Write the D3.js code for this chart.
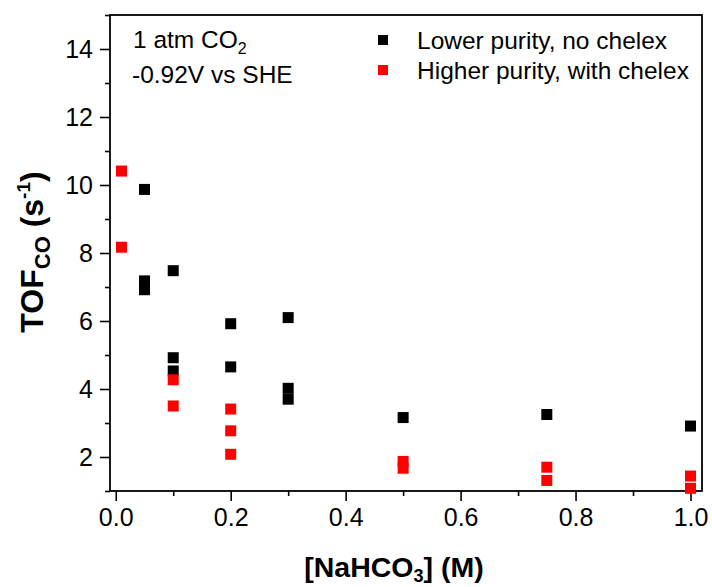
<!DOCTYPE html>
<html>
<head>
<meta charset="utf-8">
<script src="https://cdn.jsdelivr.net/npm/d3@7/dist/d3.min.js"></script>
<style>
  html, body { margin: 0; padding: 0; background: #fff; }
  svg { display: block; font-family: "Liberation Sans", Arial, sans-serif; }
</style>
</head>
<body>
<svg id="chart" width="712" height="587"></svg>
<script>
// NaHCO3 concentration (M) and CO turnover frequency (s^-1) for each run
const lowerX = [0.05, 0.05, 0.05, 0.1, 0.1, 0.1, 0.2, 0.2, 0.3, 0.3, 0.3, 0.5, 0.75, 1.0];
const lowerY = [9.87, 7.18, 6.92, 7.48, 4.92, 4.53, 5.92, 4.65, 6.10, 4.02, 3.70, 3.16, 3.25, 2.91];
const higherX = [0.01, 0.01, 0.1, 0.1, 0.2, 0.2, 0.2, 0.5, 0.5, 0.75, 0.75, 1.0, 1.0];
const higherY = [10.41, 8.17, 4.27, 3.50, 3.41, 2.77, 2.08, 1.87, 1.67, 1.70, 1.31, 1.44, 1.08];

const seriesNames = ["Lower purity, no chelex", "Higher purity, with chelex"];
const seriesColors = ["#000000", "#ff0000"];

const xMajorTicks = [0, 0.2, 0.4, 0.6, 0.8, 1.0];
const xMinorTicks = [0.1, 0.3, 0.5, 0.7, 0.9];
const yMajorTicks = [2, 4, 6, 8, 10, 12, 14];
const yMinorTicks = [1, 3, 5, 7, 9, 11, 13, 15];

const svg = d3.select("#chart");
const plotL = 110, plotR = 702, plotT = 15, plotB = 491;

const x = d3.scaleLinear().domain([-0.01, 1.02]).range([plotL, plotR]);
const y = d3.scaleLinear().domain([1, 15]).range([plotB, plotT]);

const tickFont = 25;

// x axis: major ticks with labels, minor ticks without
svg.append("g")
  .attr("transform", `translate(0,${plotB})`)
  .call(d3.axisBottom(x).tickValues(xMinorTicks).tickSize(5).tickFormat(""))
  .call(g => g.select(".domain").remove())
  .call(g => g.selectAll("line").attr("stroke", "#000").attr("stroke-width", 1.6));

svg.append("g")
  .attr("transform", `translate(0,${plotB})`)
  .call(d3.axisBottom(x).tickValues(xMajorTicks).tickSize(10).tickPadding(7).tickFormat(d3.format(".1f")))
  .call(g => g.select(".domain").remove())
  .call(g => g.selectAll("line").attr("stroke", "#000").attr("stroke-width", 1.6))
  .call(g => g.selectAll("text").attr("font-size", tickFont).attr("fill", "#000")
    .attr("font-family", "Liberation Sans, Arial, sans-serif"));

// y axis
svg.append("g")
  .attr("transform", `translate(${plotL},0)`)
  .call(d3.axisLeft(y).tickValues(yMinorTicks).tickSize(5).tickFormat(""))
  .call(g => g.select(".domain").remove())
  .call(g => g.selectAll("line").attr("stroke", "#000").attr("stroke-width", 1.6));

svg.append("g")
  .attr("transform", `translate(${plotL},0)`)
  .call(d3.axisLeft(y).tickValues(yMajorTicks).tickSize(10).tickPadding(7).tickFormat(d3.format("d")))
  .call(g => g.select(".domain").remove())
  .call(g => g.selectAll("line").attr("stroke", "#000").attr("stroke-width", 1.6))
  .call(g => g.selectAll("text").attr("font-size", tickFont).attr("fill", "#000")
    .attr("font-family", "Liberation Sans, Arial, sans-serif"));

// plot frame
svg.append("rect")
  .attr("x", plotL).attr("y", plotT)
  .attr("width", plotR - plotL).attr("height", plotB - plotT)
  .attr("fill", "none").attr("stroke", "#000").attr("stroke-width", 1.8);

// square markers
const sz = 11;
function drawSeries(xs, ys, color) {
  svg.append("g").selectAll("rect")
    .data(xs.map((v, i) => [v, ys[i]]))
    .join("rect")
    .attr("x", d => x(d[0]) - sz / 2)
    .attr("y", d => y(d[1]) - sz / 2)
    .attr("width", sz).attr("height", sz)
    .attr("fill", color);
}
drawSeries(lowerX, lowerY, seriesColors[0]);
drawSeries(higherX, higherY, seriesColors[1]);

// conditions note
const note = svg.append("g").attr("font-size", 24.5).attr("fill", "#000");
const t1 = note.append("text").attr("x", 133).attr("y", 48);
t1.append("tspan").text("1 atm CO");
t1.append("tspan").attr("font-size", 16).attr("dy", 6).text("2");
note.append("text").attr("x", 132).attr("y", 83).text("-0.92V vs SHE");

// legend
const legend = svg.append("g");
seriesNames.forEach((name, i) => {
  const ly = 40 + i * 30;
  legend.append("rect")
    .attr("x", 378).attr("y", ly - 5).attr("width", 10).attr("height", 10)
    .attr("fill", seriesColors[i]);
  legend.append("text")
    .attr("x", 417).attr("y", ly + 8.5)
    .attr("font-size", 24.5).attr("fill", "#000")
    .text(name);
});

// axis titles
const xt = svg.append("text")
  .attr("x", 394).attr("y", 577)
  .attr("text-anchor", "middle")
  .attr("font-size", 28.5).attr("font-weight", "bold").attr("fill", "#000");
xt.append("tspan").text("[NaHCO");
xt.append("tspan").attr("font-size", 18).attr("dy", 5).text("3");
xt.append("tspan").attr("dy", -5).text("] (M)");

const yt = svg.append("text")
  .attr("transform", "translate(43,252) rotate(-90)")
  .attr("text-anchor", "middle")
  .attr("font-size", 32).attr("font-weight", "bold").attr("fill", "#000");
yt.append("tspan").text("TOF");
yt.append("tspan").attr("font-size", 22).attr("dy", 7).text("CO");
yt.append("tspan").attr("dy", -7).text(" (s");
yt.append("tspan").attr("font-size", 19).attr("dy", -13).text("-1");
yt.append("tspan").attr("dy", 13).text(")");
</script>
</body>
</html>
